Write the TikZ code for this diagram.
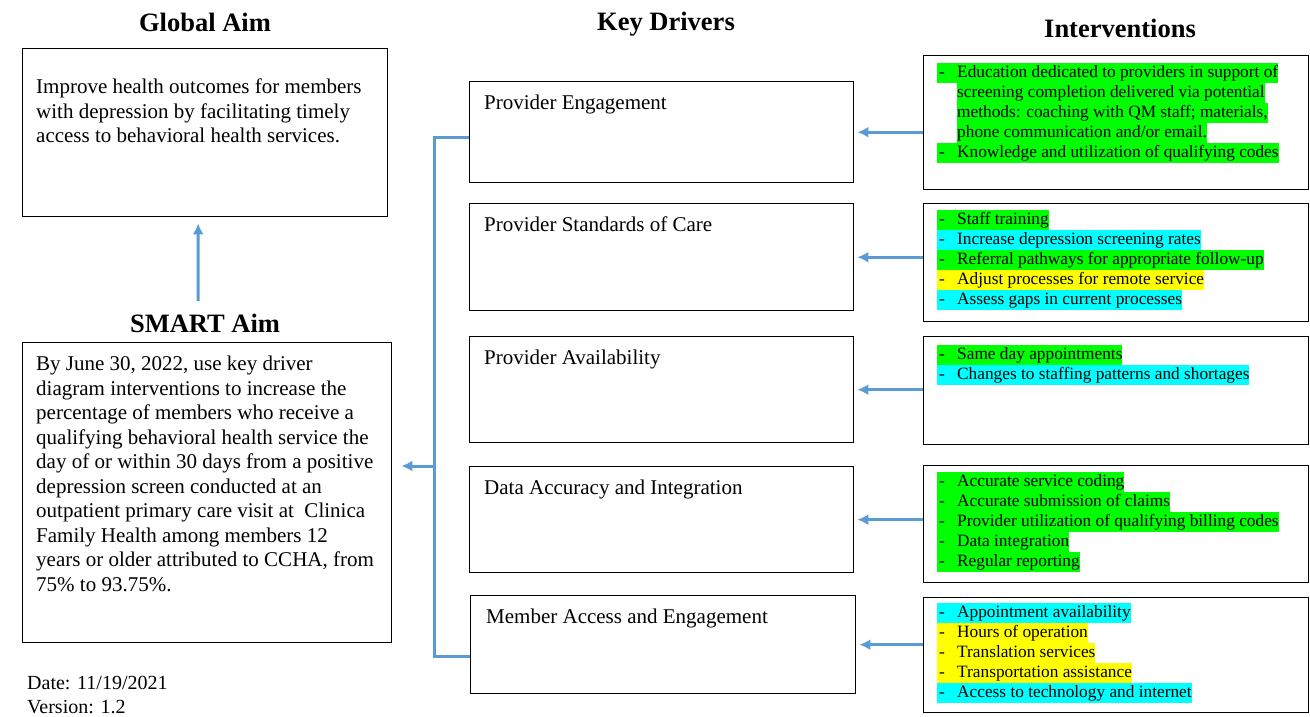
\documentclass[tikz,border=0pt]{standalone}
\usepackage{fontspec}
\setmainfont{Liberation Serif}
\usetikzlibrary{arrows.meta,positioning}

\definecolor{hlgreen}{RGB}{0,255,0}
\definecolor{hlcyan}{RGB}{0,255,255}
\definecolor{hlyellow}{RGB}{255,255,0}
\definecolor{linkblue}{RGB}{91,155,213}

\setlength{\fboxsep}{0pt}
\newcommand{\hlitem}[2]{\hbox{\colorbox{#1}{\makebox[20pt][l]{\hspace{2pt}-}#2\rule[-5.5pt]{0pt}{20pt}}}}
\newcommand{\hlcont}[2]{\hbox{\hspace{20pt}\colorbox{#1}{#2\rule[-5.5pt]{0pt}{20pt}}}}
\newcommand{\hllist}[1]{\vbox{\offinterlineskip #1}}

\begin{document}
\begin{tikzpicture}[
    x=1pt, y=-1pt,
    title/.style={font=\fontsize{26.5}{30}\selectfont\bfseries},
    aimbox/.style={draw=black, line width=1.4pt, anchor=north west, inner sep=0},
    aimtext/.style={anchor=north west, inner sep=0, align=left,
        font=\fontsize{21}{24.5}\selectfont},
    drvtext/.style={anchor=north west, inner sep=0, align=left,
        font=\fontsize{21}{24}\selectfont},
    inttext/.style={anchor=north west, inner sep=0,
        font=\fontsize{17.3}{20}\selectfont},
    conn/.style={draw=linkblue, line width=3pt, -{Latex[length=11pt,width=11pt]}},
    bus/.style={draw=linkblue, line width=3pt}
]
\useasboundingbox[fill=white] (0,0) rectangle (1310,717);

% titles
\node[title] (globt) at (205,22) {Global Aim};
\node[title] (smartt) at (205,323) {SMART Aim};
\node[title] (drvt) at (666,24) {Key Drivers};
\node[title] (intt) at (1120,28) {Interventions};

% aims
\node[aimbox, minimum width=365, minimum height=168] (glob) at (22,48) {};
\node[aimtext] (globtxt) at (36,79) {Improve health outcomes for members\\
with depression by facilitating timely\\
access to behavioral health services.};

\node[aimbox, minimum width=369, minimum height=300] (smart) at (22,342) {};
\node[aimtext] (smarttxt) at (36,356) {By June 30, 2022, use key driver\\
diagram interventions to increase the\\
percentage of members who receive a\\
qualifying behavioral health service the\\
day of or within 30 days from a positive\\
depression screen conducted at an\\
outpatient primary care visit at\ \ Clinica\\
Family Health among members 12\\
years or older attributed to CCHA, from\\
75\% to 93.75\%.};

\node[aimtext, font=\fontsize{20}{24}\selectfont] (date) at (27,676) {Date: 11/19/2021\\Version: 1.2};

% key drivers
\node[aimbox, minimum width=384, minimum height=101] (d1) at (469,81) {};
\node[aimbox, minimum width=384, minimum height=107] (d2) at (469,203) {};
\node[aimbox, minimum width=384, minimum height=106] (d3) at (469,336) {};
\node[aimbox, minimum width=384, minimum height=106] (d4) at (469,466) {};
\node[aimbox, minimum width=385, minimum height=98] (d5) at (470,595) {};
\node[drvtext] (d1txt) at (484,95) {Provider Engagement};
\node[drvtext] (d2txt) at (484,217) {Provider Standards of Care};
\node[drvtext] (d3txt) at (484,350) {Provider Availability};
\node[drvtext] (d4txt) at (484,480) {Data Accuracy and Integration};
\node[drvtext] (d5txt) at (486,609) {Member Access and Engagement};

% interventions
\node[aimbox, minimum width=385, minimum height=134] (i1) at (923,55) {};
\node[aimbox, minimum width=385, minimum height=118] (i2) at (923,203) {};
\node[aimbox, minimum width=385, minimum height=108] (i3) at (923,336) {};
\node[aimbox, minimum width=385, minimum height=117] (i4) at (923,465) {};
\node[aimbox, minimum width=385, minimum height=115] (i5) at (923,597) {};

\node[inttext] (i1txt) at (937,63) {\hllist{%
  \hlitem{hlgreen}{Education dedicated to providers in support of}
  \hlcont{hlgreen}{screening completion delivered via potential}
  \hlcont{hlgreen}{methods: coaching with QM staff; materials,}
  \hlcont{hlgreen}{phone communication and/or email.}
  \hlitem{hlgreen}{Knowledge and utilization of qualifying codes}}};
\node[inttext] (i2txt) at (937,210) {\hllist{%
  \hlitem{hlgreen}{Staff training}
  \hlitem{hlcyan}{Increase depression screening rates}
  \hlitem{hlgreen}{Referral pathways for appropriate follow-up}
  \hlitem{hlyellow}{Adjust processes for remote service}
  \hlitem{hlcyan}{Assess gaps in current processes}}};
\node[inttext] (i3txt) at (937,345) {\hllist{%
  \hlitem{hlgreen}{Same day appointments}
  \hlitem{hlcyan}{Changes to staffing patterns and shortages}}};
\node[inttext] (i4txt) at (937,472) {\hllist{%
  \hlitem{hlgreen}{Accurate service coding}
  \hlitem{hlgreen}{Accurate submission of claims}
  \hlitem{hlgreen}{Provider utilization of qualifying billing codes}
  \hlitem{hlgreen}{Data integration}
  \hlitem{hlgreen}{Regular reporting}}};
\node[inttext] (i5txt) at (937,603) {\hllist{%
  \hlitem{hlcyan}{Appointment availability}
  \hlitem{hlyellow}{Hours of operation}
  \hlitem{hlyellow}{Translation services}
  \hlitem{hlyellow}{Transportation assistance}
  \hlitem{hlcyan}{Access to technology and internet}}};

% connectors
\draw[conn, shorten <=9pt, shorten >=6pt] ([xshift=-7pt]smartt.north) -- ([xshift=-7pt]glob.south);
\foreach \k in {1,...,5}
  \draw[conn, shorten >=3pt] (i\k.west |- d\k.east) -- (d\k.east);

\coordinate (busT) at (434,137);
\coordinate (busM) at (434,466);
\coordinate (busB) at (434,656);
\draw[bus] (d1.west |- busT) -- (busT) -- (busB) -- (d5.west |- busB);
\draw[conn, shorten >=9pt] (busM) -- (smart.east |- busM);
%
\end{tikzpicture}
\end{document}
